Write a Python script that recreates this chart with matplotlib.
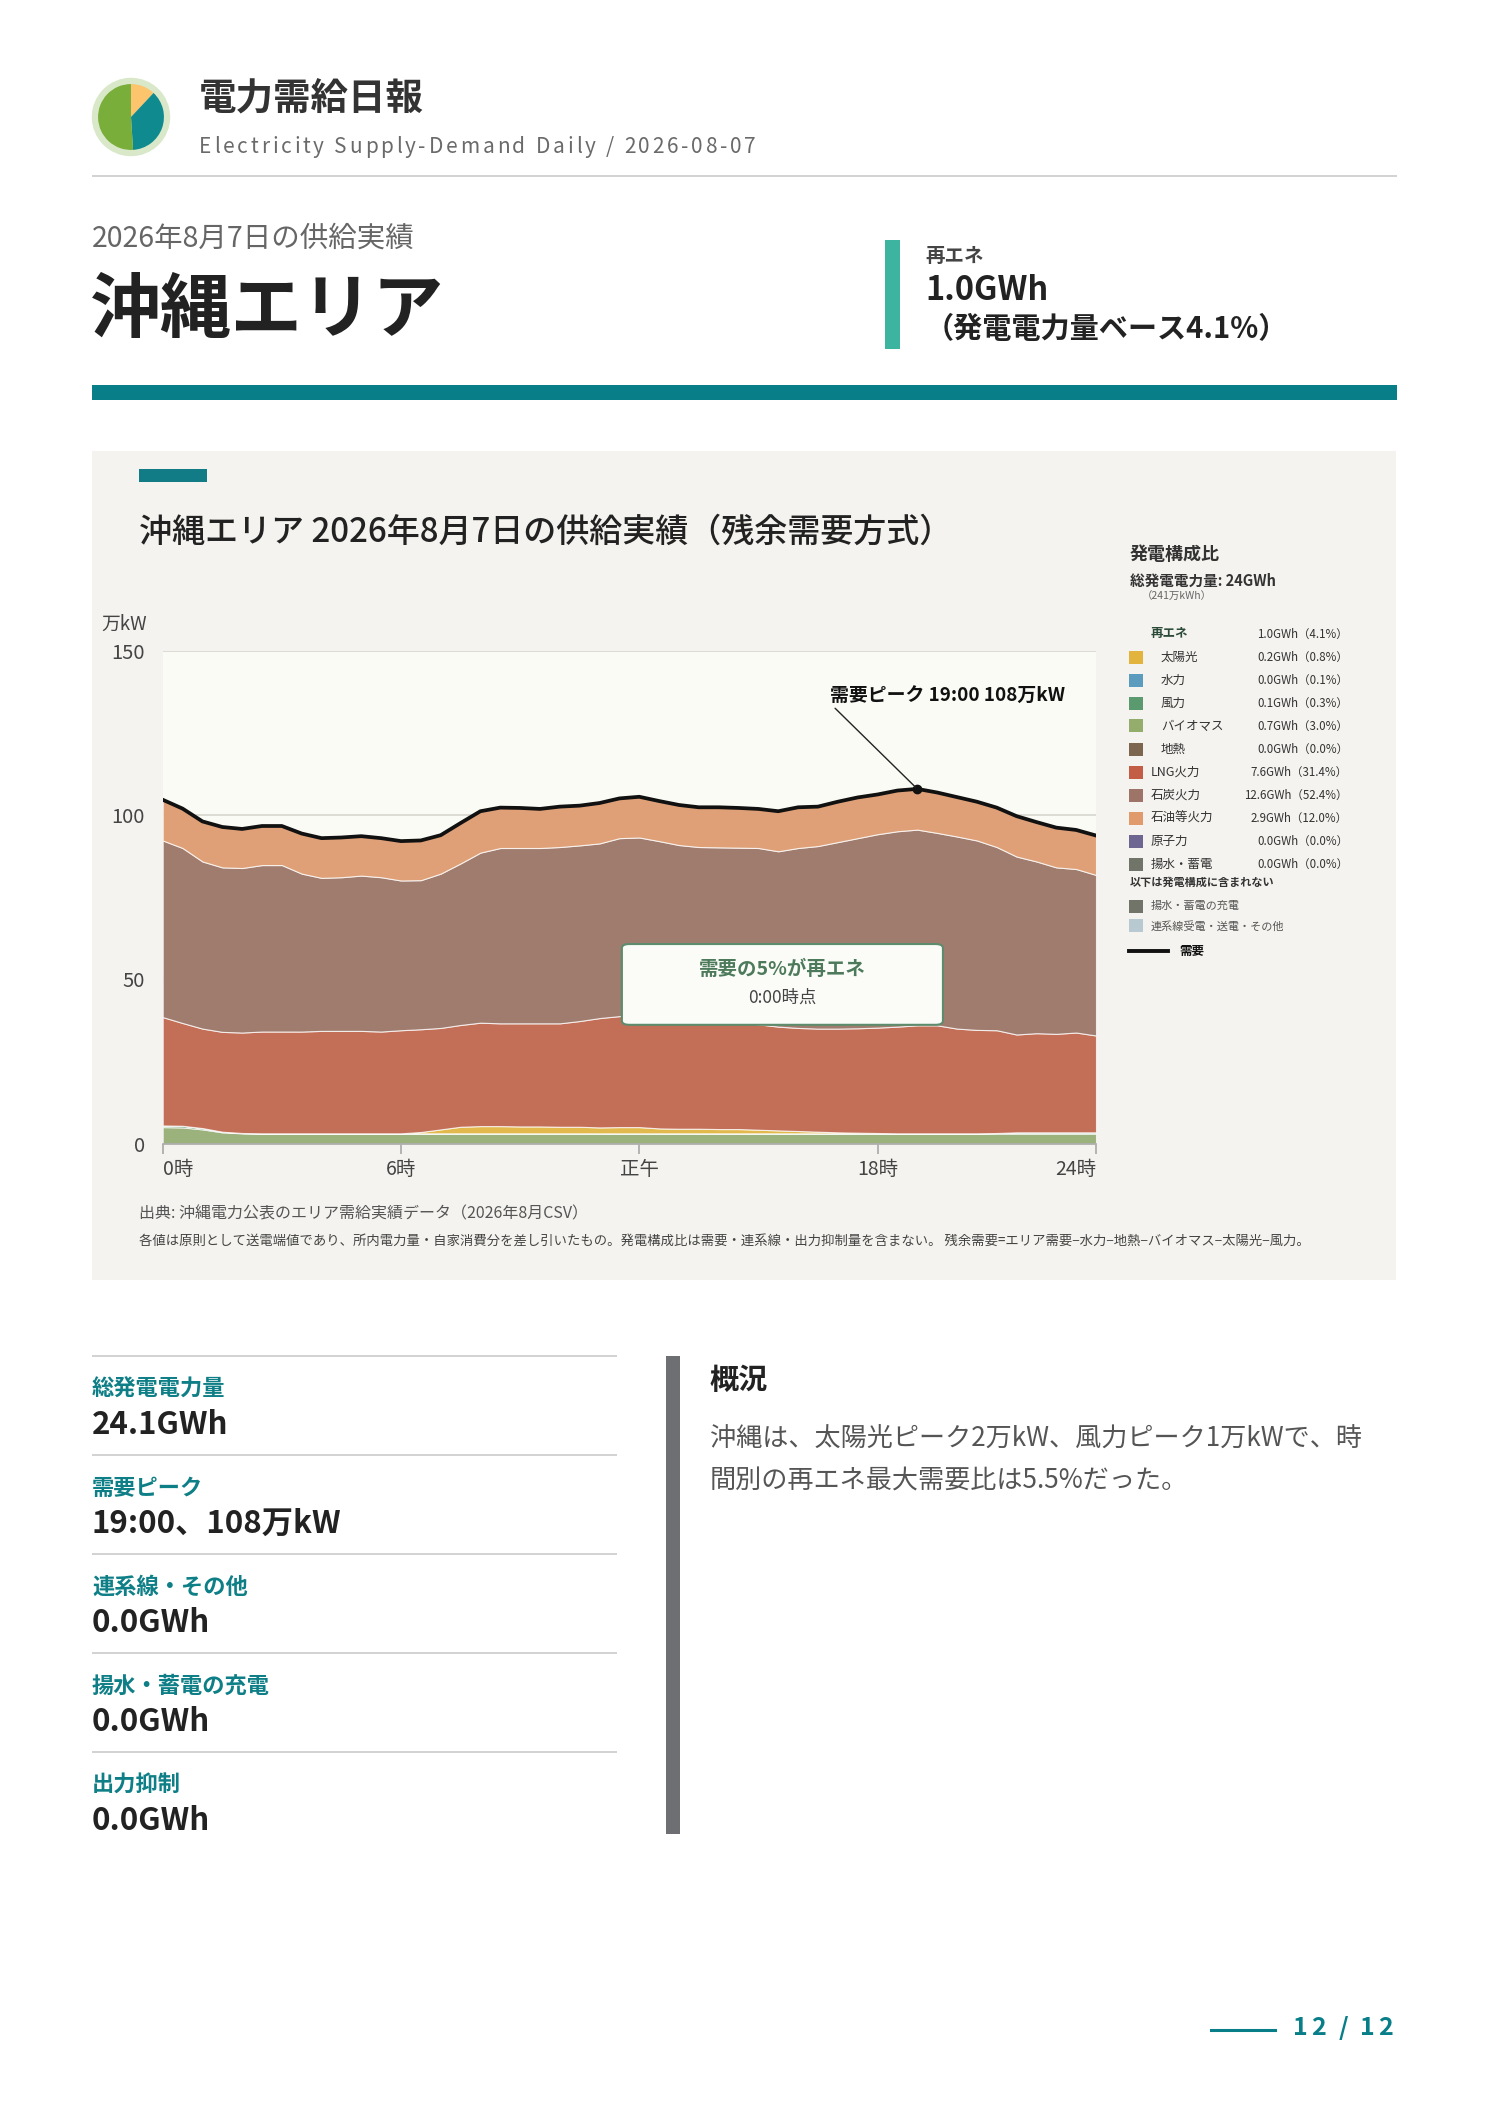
import matplotlib
matplotlib.use("Agg")
import matplotlib.pyplot as plt
from matplotlib.patches import Rectangle, FancyBboxPatch, Circle
from matplotlib.lines import Line2D
import numpy as np

plt.rcParams['font.family'] = ['Noto Sans CJK JP', 'DejaVu Sans']

W, H = 1488, 2105

# --- data: 30-minute values in 万kW (index 0 = 0:00 ... 47 = 23:30)
demand = [104.7, 102.0, 98.1, 96.4, 95.8, 96.7, 96.7, 94.4, 93.0, 93.2, 93.6, 93.0,
          92.1, 92.3, 93.9, 97.6, 101.2, 102.3, 102.2, 101.9, 102.6, 102.9, 103.7, 105.1,
          105.6, 104.3, 103.1, 102.4, 102.4, 102.2, 101.9, 101.2, 102.4, 102.6, 104.1, 105.4,
          106.3, 107.5, 108.0, 106.9, 105.5, 104.1, 102.3, 99.7, 97.9, 96.2, 95.5, 93.8]
biomass = [5.0, 4.9, 4.3, 3.4, 3.1, 3.0, 3.0, 3.0, 3.0, 3.0, 3.0, 3.0,
           3.0, 3.0, 3.0, 3.0, 3.0, 3.0, 3.0, 3.0, 3.0, 3.0, 3.0, 3.0,
           3.0, 3.0, 3.0, 3.0, 3.0, 3.0, 3.0, 3.0, 3.0, 3.0, 3.0, 3.0,
           3.0, 3.0, 3.0, 3.0, 3.0, 3.0, 3.0, 3.0, 3.0, 3.0, 3.0, 3.0]
wind = [0.5, 0.5, 0.4, 0.2, 0.1, 0.1, 0.1, 0.1, 0.1, 0.1, 0.1, 0.1,
        0.1, 0.1, 0.1, 0.1, 0.1, 0.1, 0.1, 0.1, 0.1, 0.1, 0.1, 0.1,
        0.1, 0.1, 0.1, 0.1, 0.1, 0.1, 0.1, 0.1, 0.1, 0.1, 0.1, 0.1,
        0.1, 0.1, 0.1, 0.1, 0.1, 0.1, 0.2, 0.4, 0.4, 0.4, 0.4, 0.4]
solar = [0, 0, 0, 0, 0, 0, 0, 0, 0, 0, 0, 0,
         0.0, 0.4, 1.2, 2.0, 2.2, 2.2, 2.1, 2.1, 2.0, 2.0, 1.8, 1.9,
         1.9, 1.5, 1.4, 1.4, 1.3, 1.3, 1.1, 0.9, 0.7, 0.5, 0.3, 0.2,
         0.1, 0, 0, 0, 0, 0, 0, 0, 0, 0, 0, 0]
lng = [33.0, 31.3, 30.3, 30.4, 30.6, 31.0, 31.0, 31.0, 31.2, 31.2, 31.2, 31.0,
       31.4, 31.3, 30.9, 31.0, 31.5, 31.3, 31.4, 31.4, 31.5, 32.2, 33.3, 33.8,
       34.5, 34.7, 34.3, 33.7, 33.2, 32.6, 32.1, 31.6, 31.4, 31.4, 31.6, 31.8,
       32.1, 32.5, 32.9, 32.9, 31.9, 31.5, 31.3, 29.8, 30.2, 30.0, 30.4, 29.5]
coal = [53.8, 53.3, 50.9, 50.1, 50.1, 50.7, 50.7, 48.1, 46.6, 46.8, 47.3, 47.0,
        45.6, 45.4, 47.0, 49.2, 51.8, 53.4, 53.4, 53.4, 53.7, 53.5, 53.2, 54.2,
        53.7, 52.8, 52.1, 52.1, 52.6, 53.1, 53.7, 53.4, 54.8, 55.6, 56.8, 57.9,
        58.9, 59.5, 59.6, 58.6, 58.5, 57.7, 55.8, 54.2, 52.3, 50.7, 49.8, 48.9]
oil = [12.4, 12.0, 12.2, 12.3, 11.9, 11.9, 11.9, 12.2, 12.1, 12.1, 12.0, 11.9,
       12.0, 12.1, 11.7, 12.3, 12.6, 12.3, 12.2, 11.9, 12.3, 12.1, 12.3, 12.1,
       12.4, 12.2, 12.2, 12.1, 12.2, 12.1, 11.9, 12.2, 12.4, 12.0, 12.3, 12.4,
       12.1, 12.4, 12.4, 12.3, 12.0, 11.8, 12.0, 12.3, 12.0, 12.1, 11.9, 12.0]

tick_pos = [0, 12, 24, 36, 47]
tick_labels = ['0時', '6時', '正午', '18時', '24時']
y_ticks = [0, 50, 100, 150]
peak_idx = 38

gen_labels = ['太陽光', '水力', '風力', 'バイオマス', '地熱', 'LNG火力', '石炭火力',
              '石油等火力', '原子力', '揚水・蓄電']
gen_gwh = [0.2, 0.0, 0.1, 0.7, 0.0, 7.6, 12.6, 2.9, 0.0, 0.0]
gen_pct = [0.8, 0.1, 0.3, 3.0, 0.0, 31.4, 52.4, 12.0, 0.0, 0.0]
gen_colors = ['#e2b43e', '#5b9bbd', '#5a9a6e', '#94ad6c', '#7d6650', '#c45d45',
              '#9e7468', '#e09a6c', '#6c6690', '#717569']
renew_gwh, renew_pct = 1.0, 4.1

stat_labels = ['総発電電力量', '需要ピーク', '連系線・その他', '揚水・蓄電の充電', '出力抑制']
stat_values = ['24.1GWh', '19:00、108万kW', '0.0GWh', '0.0GWh', '0.0GWh']

logo_shares = [0.12, 0.37, 0.51]

TEAL = '#087e88'


def fx(px):
    return px / W


def fy(py):
    return 1 - py / H


def rect(x0, y0, x1, y1, color, z=0):
    fig.add_artist(Rectangle((fx(x0), fy(y1)), (x1 - x0) / W, (y1 - y0) / H,
                             transform=fig.transFigure, color=color, lw=0, zorder=z))


def txt(x, y, s, **kw):
    kw.setdefault('va', 'center')
    return fig.text(fx(x), fy(y), s, **kw)


def text_width(s, **kw):
    # width in pixels, measured with a bar appended so trailing spaces count
    r = fig.canvas.get_renderer()
    t1 = fig.text(0, 0, s + '|', **kw)
    t2 = fig.text(0, 0, '|', **kw)
    w = t1.get_window_extent(r).width - t2.get_window_extent(r).width
    t1.remove()
    t2.remove()
    return w


def spaced(x0, x1, y, s, **kw):
    # draw s letter by letter so that it spans x0..x1
    natural = text_width(s, **kw)
    gap = (x1 - x0 - natural) / (len(s) - 1)
    for i, ch in enumerate(s):
        if ch == ' ':
            continue
        xi = x0 + text_width(s[:i], **kw) + i * gap if i else x0
        txt(xi, y, ch, **kw)


fig = plt.figure(figsize=(W / 100, H / 100), dpi=100)
fig.patch.set_facecolor('white')

# header
ax_logo = fig.add_axes([fx(91), fy(157), 80 / W, 80 / H])
ax_logo.add_patch(Circle((0, 0), 1.0, color='#d9e8c8', lw=0))
ax_logo.pie(logo_shares, colors=['#fcc46c', '#0f8a8f', '#79ae3a'], startangle=90,
            counterclock=False, radius=0.84, wedgeprops=dict(linewidth=0))
ax_logo.set_xlim(-1.02, 1.02)
ax_logo.set_ylim(-1.02, 1.02)
ax_logo.set_aspect('equal')
ax_logo.axis('off')

txt(199, 98, '電力需給日報', fontsize=27, fontweight='bold', color='#333333')
spaced(199, 756, 147, 'Electricity Supply-Demand Daily / 2026-08-07', fontsize=15, color='#6a6a6a')
rect(92, 175, 1397, 177, '#d3d3d3')

txt(92, 239, '2026年8月7日の供給実績', fontsize=20.5, color='#666666')
txt(90, 311, '沖縄エリア', fontsize=51, fontweight='bold', color='#222222')
rect(885, 240, 900, 349, '#3cb4a0')
txt(925, 256, '再エネ', fontsize=14, fontweight='bold', color='#444444')
txt(925, 290, f'{renew_gwh:.1f}GWh', fontsize=23.5, fontweight='bold', color='#222222')
txt(925, 329, f'（発電電力量ベース{renew_pct}%）', fontsize=21, fontweight='bold', color='#222222')
rect(92, 385, 1397, 400, TEAL)

# chart panel
rect(92, 451, 1396, 1280, '#f4f3ef', z=-5)
rect(139, 469, 207, 482, '#127c86')
txt(139, 532, '沖縄エリア 2026年8月7日の供給実績（残余需要方式）', fontsize=23.8,
    fontweight='medium', color='#222222')
txt(101, 624, '万kW', fontsize=13.5, color='#444444')

ax = fig.add_axes([fx(162.7), fy(1143.5), (1096 - 162.7) / W, (1143.5 - 651) / H])
ax.set_facecolor('#fbfbf6')
x = np.arange(len(demand))
ax.stackplot(x, biomass, wind, solar, lng, coal, oil,
             colors=['#9bb27c', '#5a9a6e', '#e2b94c', '#c36f57', '#a07c6f', '#dfa077'],
             edgecolor=(1, 1, 1, 0.75), linewidth=0.8, zorder=2)
ax.plot(x, demand, color='#111111', lw=2.7, zorder=4, solid_joinstyle='round')
ax.plot(x[peak_idx], demand[peak_idx], 'o', color='#111111', ms=6, zorder=5)
ax.annotate(f'需要ピーク 19:00 {demand[peak_idx]:.0f}万kW', xy=(x[peak_idx], demand[peak_idx]),
            xytext=(33.6, 136.3), ha='left', va='center', fontsize=13.6, fontweight='bold',
            color='#111111', zorder=6,
            arrowprops=dict(arrowstyle='-', color='#222222', lw=1.0, shrinkA=0, shrinkB=2,
                            relpos=(0.01, 0.0)))

ax.set_xlim(0, len(demand) - 1)
ax.set_ylim(0, 150)
ax.set_yticks(y_ticks)
ax.set_xticks(tick_pos, tick_labels)
ax.grid(axis='y', color='#d9d9d2', lw=1.3, zorder=0)
ax.set_axisbelow(True)
for s in ['top', 'right', 'left']:
    ax.spines[s].set_visible(False)
ax.spines['bottom'].set_color('#a8a8a8')
ax.spines['bottom'].set_linewidth(1.2)
ax.tick_params(axis='y', length=0, pad=13, labelsize=14.5, labelcolor='#444444')
ax.tick_params(axis='x', length=7, width=1.2, color='#a8a8a8', pad=4, labelsize=14,
               labelcolor='#444444')
xl = ax.get_xticklabels()
xl[0].set_ha('left')
xl[-1].set_ha('right')

box = FancyBboxPatch((0.492, 0.241), 0.344, 0.164, transform=ax.transAxes,
                     boxstyle='round,pad=0,rounding_size=0.008',
                     facecolor='#fbfcf8', edgecolor='#5d8c6c', lw=1.5, zorder=7)
ax.add_patch(box)
renew_share0 = (biomass[0] + wind[0] + solar[0]) / demand[0] * 100
ax.text(0.664, 0.354, f'需要の{renew_share0:.0f}%が再エネ', transform=ax.transAxes,
        ha='center', va='center', fontsize=14, fontweight='bold', color='#4d7a5b', zorder=8)
ax.text(0.664, 0.295, '0:00時点', transform=ax.transAxes, ha='center', va='center',
        fontsize=12.5, color='#444444', zorder=8)

# legend block
txt(1130, 555, '発電構成比', fontsize=13, fontweight='bold', color='#333333')
txt(1130, 581, '総発電電力量: 24GWh', fontsize=10.5, fontweight='bold', color='#333333')
txt(1142, 597, '（241万kWh）', fontsize=7.5, color='#666666')
txt(1151, 634, '再エネ', fontsize=9, fontweight='bold', color='#2b4a38')
txt(1348, 634, f'{renew_gwh:.1f}GWh（{renew_pct}%）', fontsize=8.3, ha='right', color='#333333')
for k, (lab, g, p, c) in enumerate(zip(gen_labels, gen_gwh, gen_pct, gen_colors)):
    yy = 657 + k * 23
    rect(1129, yy - 6.5, 1143, yy + 6.5, c)
    indent = 1161 if k < 5 else 1151
    txt(indent, yy, lab, fontsize=9, color='#333333')
    txt(1348, yy, f'{g:.1f}GWh（{p:.1f}%）', fontsize=8.3, ha='right', color='#333333')
txt(1130, 882, '以下は発電構成に含まれない', fontsize=8, fontweight='bold', color='#333333')
rect(1129, 900, 1143, 913, '#717569')
txt(1151, 906, '揚水・蓄電の充電', fontsize=8, color='#555555')
rect(1129, 919, 1143, 932, '#b9c9d1')
txt(1151, 926, '連系線受電・送電・その他', fontsize=8, color='#555555')
fig.add_artist(Line2D([fx(1129), fx(1168)], [fy(951), fy(951)], transform=fig.transFigure,
                      color='#111111', lw=2.8))
txt(1179, 951, '需要', fontsize=9, fontweight='bold', color='#111111')

txt(139, 1214, '出典: 沖縄電力公表のエリア需給実績データ（2026年8月CSV）', fontsize=11.5, color='#555555')
txt(139, 1242, '各値は原則として送電端値であり、所内電力量・自家消費分を差し引いたもの。'
    '発電構成比は需要・連系線・出力抑制量を含まない。 残余需要=エリア需要−水力−地熱−バイオマス−太陽光−風力。',
    fontsize=9.6, color='#444444')

# bottom stats
for k, (lab, val) in enumerate(zip(stat_labels, stat_values)):
    y0 = 1356 + k * 99
    rect(92, y0 - 1, 617, y0 + 1, '#d3d3d3')
    txt(92, y0 + 33, lab, fontsize=16, fontweight='bold', color='#0e7f86')
    txt(92, y0 + 69, val, fontsize=22.5, fontweight='bold', color='#222222')

rect(666, 1356, 680, 1834, '#6e6f72')
txt(710, 1380, '概況', fontsize=21, fontweight='bold', color='#222222')
txt(710, 1439, '沖縄は、太陽光ピーク2万kW、風力ピーク1万kWで、時', fontsize=18.8, color='#555555')
txt(710, 1481, '間別の再エネ最大需要比は5.5%だった。', fontsize=18.8, color='#555555')

# footer
fig.add_artist(Line2D([fx(1211), fx(1275)], [fy(2030), fy(2030)], transform=fig.transFigure,
                      color=TEAL, lw=2.2))
spaced(1293, 1393, 2028, '12 / 12', fontsize=18, fontweight='bold', color=TEAL)

fig.savefig('out.png', dpi=100, facecolor='white')
